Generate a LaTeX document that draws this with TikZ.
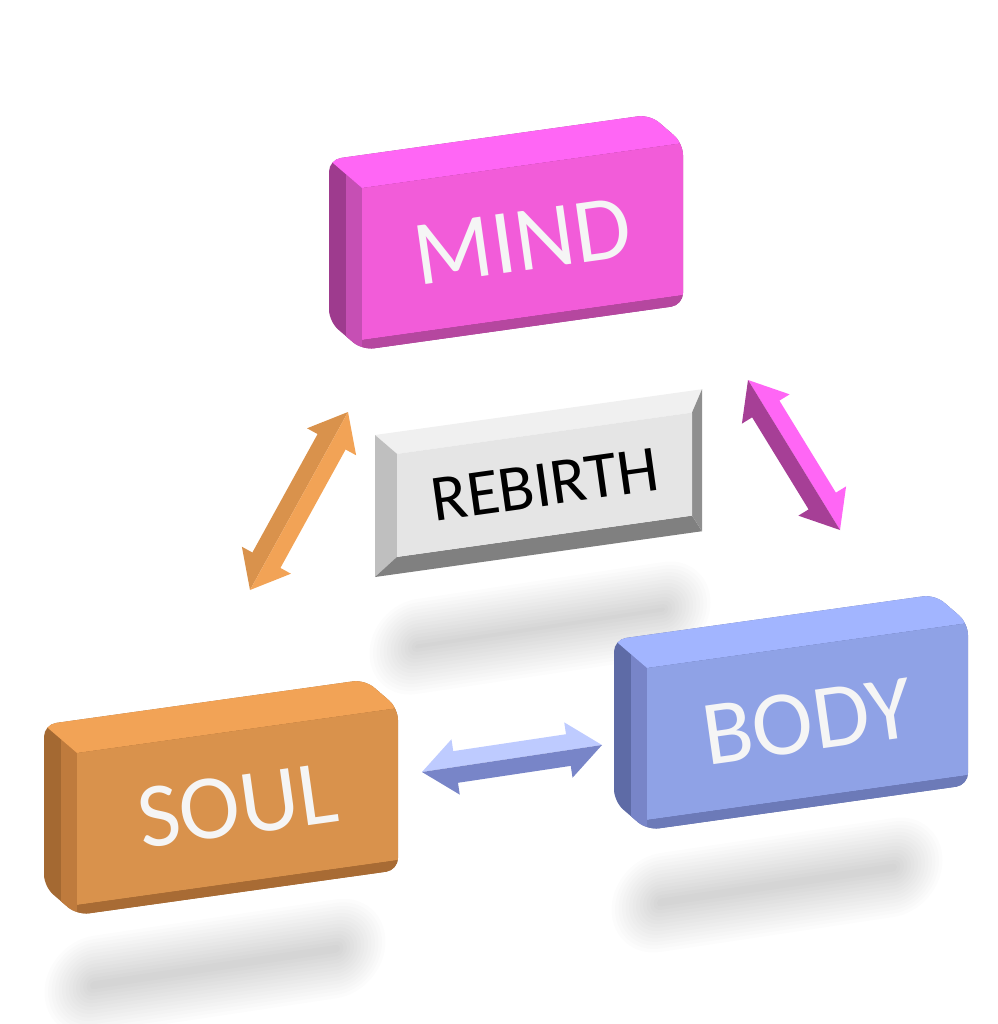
\documentclass[tikz,border=0pt]{standalone}
\usepackage{fontspec}
\setmainfont{Carlito}
\usetikzlibrary{calc}

\definecolor{mindfront}{HTML}{F25CD9}
\definecolor{mindtop}{HTML}{FF66F5}
\definecolor{mindside}{HTML}{9E3B8E}
\definecolor{mindbevel}{HTML}{C64FB4}
\definecolor{mindbottom}{HTML}{B5479F}
\definecolor{soulfront}{HTML}{D9924C}
\definecolor{soultop}{HTML}{F2A356}
\definecolor{soulside}{HTML}{A46932}
\definecolor{soulbevel}{HTML}{BF7B3D}
\definecolor{soulbottom}{HTML}{A86B34}
\definecolor{bodyfront}{HTML}{8FA2E6}
\definecolor{bodytop}{HTML}{A2B5FF}
\definecolor{bodyside}{HTML}{5E6BA6}
\definecolor{bodybevel}{HTML}{7885C8}
\definecolor{bodybottom}{HTML}{6C7AB8}

\tikzset{
	slabtext/.style={font=\fontsize{92}{92}\selectfont, text=white!96!black, rotate=8, inner sep=0pt},
	rebirthtext/.style={font=\fontsize{66}{66}\selectfont, text=black, rotate=8, inner sep=0pt}
}

\begin{document}
\begin{tikzpicture}[x=1pt, y=-1pt]
		\useasboundingbox (0,0) rectangle (997,1024);
		\newcommand\blob[3]{%
			\begin{scope}[shift={#1}, yslant=0.15]
				\foreach \k in {0,...,13}{
					\pgfmathsetmacro\rr{#3+3.5*\k}
					\fill[black, opacity=0.01, rounded corners=\rr pt]
						(-#2-3.5*\k,-#3-3.5*\k) rectangle (#2+3.5*\k,#3+3.5*\k);
				}
			\end{scope}}
		\newcommand\slab[6]{%
			\begin{scope}[shift={#1}, yslant=0.14]
				\clip[rounded corners=12pt] (-33,-33) -- (288,-33) -- (321,0) -- (321,162) -- (0,162) -- (-33,129) -- cycle;
				\fill[#4] (-40,-40) rectangle (330,170);
				\fill[#5] (-16,-16) -- (0,0) -- (0,162) -- (-16,146) -- cycle;
				\fill[#3] (-33,-33) -- (288,-33) -- (321,0) -- (0,0) -- cycle;
				\fill[#2] (0,0) rectangle (321,152);
				\fill[#6] (0,152) rectangle (321,162);
			\end{scope}}
		\newcommand\duoarrow[4]{%
			\fill[#3] (#1) -- ($(#1)!34pt!(#2)!28pt!90:(#2)$) -- ($(#1)!34pt!(#2)!16pt!90:(#2)$)
				-- ($(#2)!34pt!(#1)!16pt!-90:(#1)$) -- ($(#2)!34pt!(#1)!28pt!-90:(#1)$) -- (#2) -- cycle;
			\fill[#4] (#1) -- ($(#1)!34pt!(#2)!28pt!-90:(#2)$) -- ($(#1)!34pt!(#2)!16pt!-90:(#2)$)
				-- ($(#2)!34pt!(#1)!16pt!90:(#1)$) -- ($(#2)!34pt!(#1)!28pt!90:(#1)$) -- (#2) -- cycle;}

		% shadows on the floor
		\blob{(540,628)}{125}{2}
		\blob{(215,967)}{125}{4}
		\blob{(777,885)}{120}{4}

		% the three blocks
		\slab{(362,188)}{mindfront}{mindtop}{mindside}{mindbevel}{mindbottom}
		\node[slabtext] (mind) at ($(362,188)+(160.5,53.5)$) {MIND};
		\slab{(77,753)}{soulfront}{soultop}{soulside}{soulbevel}{soulbottom}
		\node[slabtext] (soul) at ($(77,753)+(160.5,52.5)$) {SOUL};
		\slab{(647,668)}{bodyfront}{bodytop}{bodyside}{bodybevel}{bodybottom}
		\node[slabtext] (body) at ($(647,668)+(160.5,53.5)$) {BODY};

		% rebirth button
		\begin{scope}[shift={(375,435)}, yslant=0.14]
			\fill[black!6] (0,0) -- (327,0) -- (317,22) -- (22,22) -- cycle;
			\fill[black!25] (0,0) -- (22,22) -- (22,125) -- (0,142) -- cycle;
			\fill[black!50] (0,142) -- (22,125) -- (317,125) -- (327,142) -- cycle;
			\fill[black!44] (327,0) -- (327,142) -- (317,125) -- (317,22) -- cycle;
			\fill[black!10] (22,22) rectangle (317,125);
			\node[rebirthtext] (rebirth) at (170,73.5) {REBIRTH};
		\end{scope}

		% arrows
		\coordinate (soul-n) at (250,590);
		\coordinate (mind-sw) at (348,412);
		\coordinate (mind-se) at (748,380);
		\coordinate (body-n) at (840,530);
		\coordinate (soul-e) at (422,772);
		\coordinate (body-w) at (602,745);
		\duoarrow{soul-n}{mind-sw}{soulfront}{soultop}
		\duoarrow{mind-se}{body-n}{mindtop}{mindside!80!mindbevel}
		\duoarrow{soul-e}{body-w}{bodytop!70!white}{bodybevel}
	\end{tikzpicture}
\end{document}
